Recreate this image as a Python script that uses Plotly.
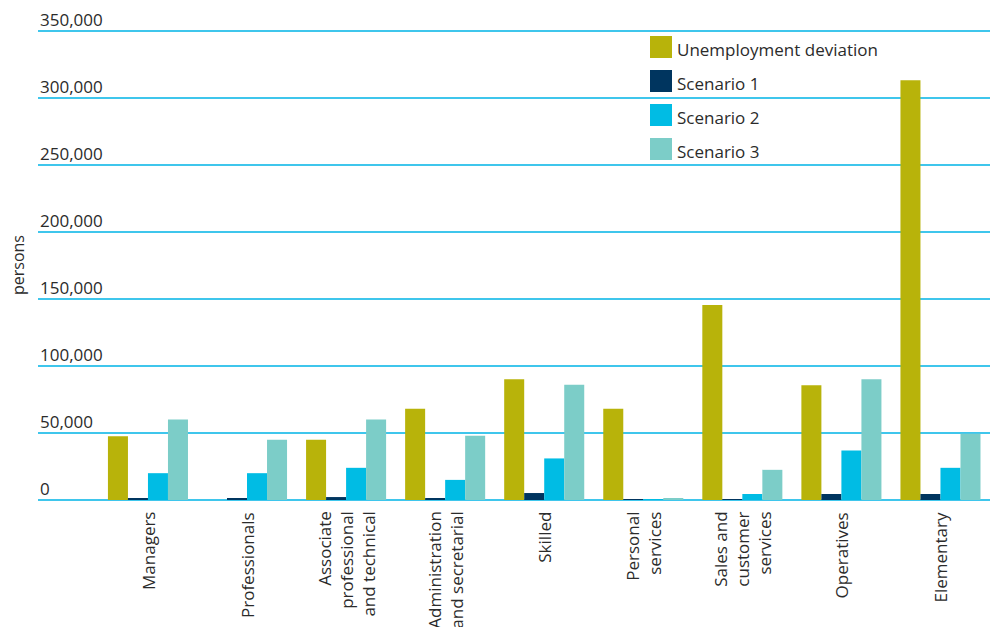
import plotly.graph_objects as go

# Occupational groups (line breaks as printed under the axis)
categories = [
    "Managers",
    "Professionals",
    "Associate<br>professional<br>and technical",
    "Administration<br>and secretarial",
    "Skilled",
    "Personal<br>services",
    "Sales and<br>customer<br>services",
    "Operatives",
    "Elementary",
]

series_names = ["Unemployment deviation", "Scenario 1", "Scenario 2", "Scenario 3"]

unemployment_deviation = [47500, 0, 45000, 68000, 90000, 68000, 145500, 85500, 313000]
scenario_1 = [1500, 1500, 2200, 1500, 5200, 400, 300, 4500, 4500]
scenario_2 = [20000, 20000, 24000, 15000, 31000, 400, 4500, 37000, 24000]
scenario_3 = [60000, 45000, 60000, 48000, 86000, 1500, 22500, 90000, 49500]

y_ticks = [0, 50000, 100000, 150000, 200000, 250000, 300000, 350000]

colors = ["#b8b30a", "#00355f", "#00bce4", "#7ccdc8"]
grid_color = "#3fc6ec"
text_color = "#2b2b2b"
font_family = "Open Sans, Noto Sans, sans-serif"

W, H = 996, 627
M_L, M_R, M_T, M_B = 38, 6, 28, 127
plot_w = W - M_L - M_R
plot_h = H - M_T - M_B
Y_MAX = 352000  # a little headroom so the top gridline is drawn


def px_to_paper_x(px):
    return (px - M_L) / plot_w


def px_to_paper_y(py):
    return 1 - (py - M_T) / plot_h


fig = go.Figure()
for name, vals, col in zip(
    series_names,
    [unemployment_deviation, scenario_1, scenario_2, scenario_3],
    colors,
):
    fig.add_trace(
        go.Bar(
            x=categories,
            y=vals,
            name=name,
            marker=dict(color=col, line=dict(width=0)),
            showlegend=False,
        )
    )

annotations = []
# y tick labels sit above their gridlines, flush left
for v in y_ticks:
    annotations.append(
        dict(
            x=0, xref="paper", y=v, yref="y",
            text=f"{v:,}", showarrow=False,
            xanchor="left", yanchor="bottom", yshift=-2,
            font=dict(size=17, color=text_color, family=font_family),
        )
    )

# category labels: rotated, lines aligned toward the axis
for cat in categories:
    annotations.append(
        dict(
            x=cat, xref="x", y=px_to_paper_y(510), yref="paper",
            text=cat, showarrow=False, textangle=-90, align="right",
            xanchor="center", yanchor="top",
            font=dict(size=17, color=text_color, family=font_family),
        )
    )

# axis title
annotations.append(
    dict(
        x=px_to_paper_x(18), xref="paper", y=px_to_paper_y(265), yref="paper",
        text="persons", textangle=-90, showarrow=False,
        xanchor="center", yanchor="middle",
        font=dict(size=16, color=text_color, family=font_family),
    )
)

# legend with large swatches
shapes = []
for i, (name, col) in enumerate(zip(series_names, colors)):
    top = 36 + i * 34
    shapes.append(
        dict(
            type="rect", xref="paper", yref="paper",
            x0=px_to_paper_x(650), x1=px_to_paper_x(672),
            y0=px_to_paper_y(top + 22), y1=px_to_paper_y(top),
            fillcolor=col, line=dict(width=0), layer="above",
        )
    )
    annotations.append(
        dict(
            x=px_to_paper_x(675), xref="paper",
            y=px_to_paper_y(top + 13), yref="paper",
            text=name, showarrow=False,
            xanchor="left", yanchor="middle",
            font=dict(size=17, color=text_color, family=font_family),
        )
    )

fig.update_layout(
    width=W, height=H,
    margin=dict(l=M_L, r=M_R, t=M_T, b=M_B, autoexpand=False),
    paper_bgcolor="white", plot_bgcolor="white",
    barmode="group", bargap=0.192, bargroupgap=0,
    font=dict(family=font_family, color=text_color),
    annotations=annotations, shapes=shapes,
    showlegend=False,
)

fig.update_xaxes(
    type="category",
    range=[-1.11, 8.5],
    showticklabels=False, ticks="",
    showgrid=False, showline=False, zeroline=False,
)

fig.update_yaxes(
    range=[0, Y_MAX],
    tickvals=y_ticks,
    showticklabels=False,
    showgrid=True, gridcolor=grid_color, gridwidth=1.6,
    zeroline=True, zerolinecolor=grid_color, zerolinewidth=1.6,
    showline=False, ticks="",
)

fig.write_html("out.html")
